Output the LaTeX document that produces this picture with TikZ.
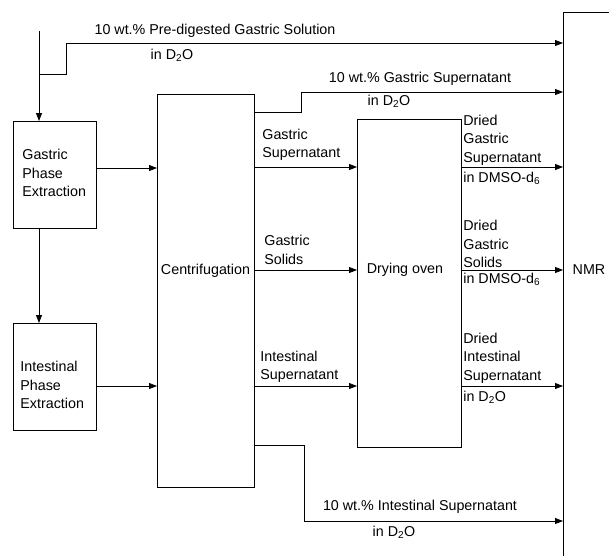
\documentclass[tikz,border=0pt]{standalone}
\usepackage{fontspec}
\setmainfont{Liberation Sans}
\usetikzlibrary{positioning,arrows.meta}

\begin{document}
\begin{tikzpicture}[
        x=1pt, y=-1pt,
        >={Triangle[length=8pt,width=6pt]},
        line width=0.8pt,
        box/.style={
            draw,
            anchor=north west,
            inner sep=0pt
        },
        lbl/.style={
            align=left,
            inner sep=0pt,
            font=\fontsize{14.3}{18.5}\selectfont
        }
    ]
        \clip (0,0) rectangle (609,555);

        % boxes
        \node[box, minimum width=83pt, minimum height=107pt] (gastric) at (13,121) {};
        \node[box, minimum width=83pt, minimum height=107pt] (intestinal) at (13,323) {};
        \node[box, minimum width=97pt, minimum height=393pt] (cen) at (157,94) {};
        \node[box, minimum width=104pt, minimum height=328pt] (dry) at (357,119) {};
        \node[box, minimum width=100pt, minimum height=600pt] (nmr) at (563,12) {};

        \node[lbl, anchor=west] (gastric-txt) at (22,173) {Gastric\\Phase\\Extraction};
        \node[lbl, anchor=west] (intestinal-txt) at (20,385) {Intestinal\\Phase\\Extraction};
        \node[lbl] (cen-txt) at (205.5,271) {Centrifugation};
        \node[lbl] (dry-txt) at (405,270) {Drying oven};
        \node[lbl] (nmr-txt) at (589,270) {NMR};

        % rows
        \coordinate (feed) at (39,31);
        \coordinate (rowsup) at (0,167);
        \coordinate (rowsol) at (0,270);
        \coordinate (rowint) at (0,386);

        \draw[->] (feed) -- (feed |- gastric.north);
        \draw[->] (gastric.south -| feed) -- (intestinal.north -| feed);
        \draw[->] (gastric.east |- 0,168) -- (cen.west |- 0,168);
        \draw[->] (intestinal.east |- rowint) -- (cen.west |- rowint);

        % bypass lines to NMR
        \draw[->] (feed |- 0,74) -| (66,43) -- (nmr.west |- 0,43);
        \node[lbl] (predig) at (215,31) {10 wt.\% Pre-digested Gastric Solution};
        \node[lbl] (predig-d) at (172,55) {in D\textsubscript{2}O};

        \draw[->] (cen.east |- 0,112) -| (301,92) -- (nmr.west |- 0,92);
        \node[lbl] (gsup) at (420,79) {10 wt.\% Gastric Supernatant};
        \node[lbl] (gsup-d) at (389,101) {in D\textsubscript{2}O};

        \draw[->] (cen.east |- 0,445) -| (304,521) -- (nmr.west |- 0,521);
        \node[lbl] (isup) at (420,507) {10 wt.\% Intestinal Supernatant};
        \node[lbl] (isup-d) at (394,532) {in D\textsubscript{2}O};

        % centrifugation to oven
        \draw[->] (cen.east |- rowsup) -- (dry.west |- rowsup);
        \draw[->] (cen.east |- rowsol) -- (dry.west |- rowsol);
        \draw[->] (cen.east |- rowint) -- (dry.west |- rowint);
        \node[lbl, anchor=west] (c-gsup) at (262,145) {Gastric\\Supernatant};
        \node[lbl, anchor=west] (c-gsol) at (264,250) {Gastric\\Solids};
        \node[lbl, anchor=west] (c-isup) at (260,367) {Intestinal\\Supernatant};

        % oven to NMR
        \draw[->] (dry.east |- rowsup) -- (nmr.west |- rowsup);
        \draw[->] (dry.east |- rowsol) -- (nmr.west |- rowsol);
        \draw[->] (dry.east |- rowint) -- (nmr.west |- rowint);
        \node[lbl, anchor=west] (d-gsup) at (463,140) {Dried\\Gastric\\Supernatant};
        \node[lbl, anchor=west] (d-gsup-s) at (463,178) {in DMSO-d\textsubscript{6}};
        \node[lbl, anchor=west] (d-gsol) at (463,244) {Dried\\Gastric\\Solids};
        \node[lbl, anchor=west] (d-gsol-s) at (463,279) {in DMSO-d\textsubscript{6}};
        \node[lbl, anchor=west] (d-isup) at (463,358) {Dried\\Intestinal\\Supernatant};
        \node[lbl, anchor=west] (d-isup-s) at (463,397) {in D\textsubscript{2}O};
    \end{tikzpicture}
\end{document}
